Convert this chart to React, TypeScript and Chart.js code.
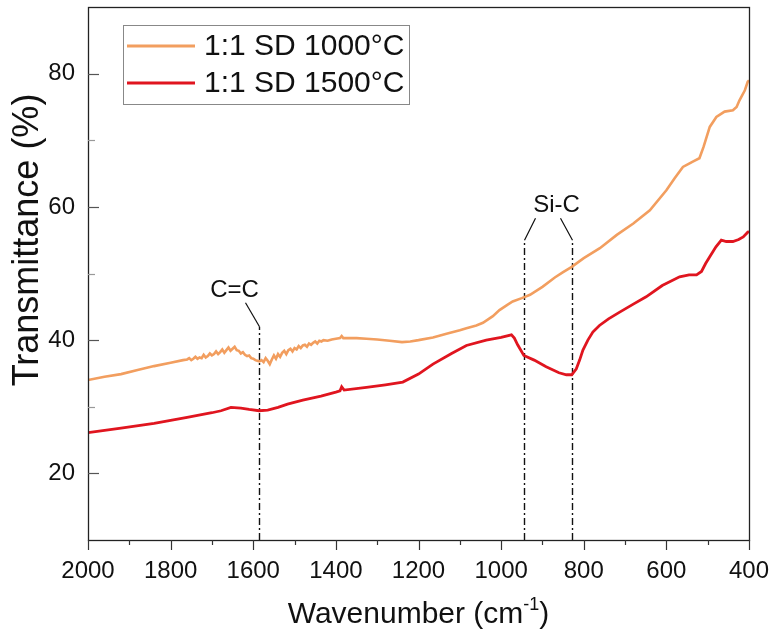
import React, { useEffect, useRef } from 'react';
import { Chart, registerables } from 'chart.js';

Chart.register(...registerables);

const FONT = '"Liberation Sans", Arial, Helvetica, sans-serif';

// ---- data ----
const seriesLabels = ['1:1 SD 1000°C', '1:1 SD 1500°C'];
const seriesColors = ['#F29E5F', '#E0151F'];

const wn1000 = [
  2000, 1960, 1920, 1880, 1840, 1800, 1770,
  1760, 1755, 1750, 1745, 1740, 1735, 1730, 1725, 1720, 1715, 1710, 1705, 1700, 1695, 1690, 1685, 1680, 1675,
  1670, 1665, 1660, 1655, 1650, 1645, 1640, 1635, 1630, 1625, 1620, 1615, 1610, 1605, 1600, 1595, 1590, 1585,
  1580, 1575, 1570, 1565, 1560, 1555, 1550, 1545, 1540, 1535, 1530, 1525, 1520, 1515, 1510, 1505, 1500, 1495,
  1490, 1485, 1480, 1475, 1470, 1465, 1460, 1455, 1450, 1445, 1440, 1435, 1430,
  1420, 1410, 1400, 1390, 1386, 1382, 1370, 1350, 1326,
  1300, 1270, 1240, 1220, 1200, 1165, 1130, 1100, 1084, 1060, 1044, 1020, 1004, 985, 972, 950, 930, 900, 870,
  850, 829, 800, 761, 720, 680, 640, 600, 580, 560, 545, 536, 520, 510, 495, 479, 459, 439, 430, 423, 410, 403, 400,
];
const t1000 = [
  34.0, 34.5, 34.9, 35.5, 36.1, 36.6, 37.0,
  37.1, 37.3, 37.0, 37.2, 37.5, 37.2, 37.4, 37.3, 37.8, 37.4, 37.6, 38.0, 37.7, 37.9, 38.3, 37.9, 38.2, 38.6,
  38.1, 38.5, 38.9, 38.4, 38.7, 39.0, 38.5, 38.4, 38.0, 38.2, 37.8, 37.6, 37.7, 37.3, 37.2, 37.0, 36.9, 36.8,
  37.0, 36.7, 37.3, 36.9, 36.4, 37.1, 37.7, 37.2, 37.9, 37.5, 38.1, 38.4, 37.9, 38.5, 38.7, 38.3, 38.8, 38.6,
  39.1, 38.8, 39.2, 39.3, 39.0, 39.5, 39.3, 39.6, 39.8, 39.5, 39.9, 39.8, 40.0,
  39.9, 40.1, 40.2, 40.3, 40.6, 40.3, 40.3, 40.3, 40.2,
  40.1, 39.9, 39.7, 39.8, 40.0, 40.4, 41.0, 41.5, 41.8, 42.2, 42.6, 43.6, 44.5, 45.3, 45.8, 46.3, 46.8, 48.0, 49.4,
  50.2, 51.0, 52.3, 53.8, 55.8, 57.5, 59.5, 62.5, 64.3, 66.0, 66.5, 66.8, 67.3, 69.0, 72.0, 73.5, 74.3, 74.5, 75.0, 76.0, 77.5, 78.8, 79.0,
];

const wn1500 = [
  2000, 1920, 1840, 1760, 1700, 1678, 1654, 1630, 1610, 1586, 1565, 1540, 1517, 1480, 1436, 1400, 1390, 1386,
  1380, 1326, 1280, 1238, 1200, 1165, 1120, 1084, 1036, 1000, 975, 968, 960, 945, 920, 891, 860, 842, 829, 818,
  810, 802, 790, 778, 762, 740, 713, 680, 649, 610, 568, 545, 527, 515, 505, 495, 480, 467, 455, 439, 425, 414, 403, 400,
];
const t1500 = [
  26.1, 26.8, 27.5, 28.4, 29.1, 29.4, 29.9, 29.8, 29.6, 29.4, 29.5, 29.9, 30.4, 31.0, 31.6, 32.2, 32.4, 33.0,
  32.5, 32.9, 33.3, 33.7, 34.9, 36.4, 38.0, 39.2, 40.0, 40.4, 40.8, 40.3, 39.3, 37.7, 37.0, 36.0, 35.1, 34.8, 34.8, 35.7,
  37.0, 38.5, 40.0, 41.2, 42.2, 43.2, 44.2, 45.4, 46.5, 48.2, 49.5, 49.8, 49.8, 50.3, 51.5, 52.5, 54.0, 55.0, 54.8, 54.8, 55.1, 55.5, 56.2, 56.3,
];

const xMin = 400;
const xMax = 2000;
const xTickStep = 200;
const xMinorValues = [1900, 1700, 1500, 1300, 1100, 900, 700, 500];
const yMin = 10;
const yMax = 90;
const yTickValues = [20, 40, 60, 80];
const yMinorValues = [30, 50, 70];

const xTitle = 'Wavenumber (cm';
const xTitleSup = '-1';
const xTitleEnd = ')';
const yTitle = 'Transmittance (%)';

const annotationLabels = ['C=C', 'Si-C'];
const annotationWavenumbers = [1586, 945, 829];
const annotationTops = [42, 55, 55];

const zeroPadding = (s: any) => {
  s.paddingLeft = 0;
  s.paddingRight = 0;
  s.paddingTop = 0;
  s.paddingBottom = 0;
};

const decorPlugin = {
  id: 'decor',
  beforeDatasetsDraw(chart: any) {
    const { ctx, chartArea, scales } = chart;
    const xs = scales.x;
    const ys = scales.y;
    ctx.save();
    ctx.strokeStyle = '#111';
    ctx.lineWidth = 1.4;
    ctx.setLineDash([7, 3, 2, 3]);
    annotationWavenumbers.forEach((w, i) => {
      const px = Math.round(xs.getPixelForValue(w)) + 0.5;
      const top = ys.getPixelForValue(annotationTops[i]);
      ctx.beginPath();
      ctx.moveTo(px, chartArea.bottom);
      ctx.lineTo(px, top);
      ctx.stroke();
    });
    ctx.setLineDash([]);
    ctx.lineWidth = 1.2;
    const cx = Math.round(xs.getPixelForValue(annotationWavenumbers[0])) + 0.5;
    const cy = ys.getPixelForValue(annotationTops[0]);
    ctx.beginPath();
    ctx.moveTo(cx, cy);
    ctx.lineTo(cx - 14, cy - 24);
    ctx.stroke();
    const sx1 = Math.round(xs.getPixelForValue(annotationWavenumbers[1])) + 0.5;
    const sy1 = ys.getPixelForValue(annotationTops[1]);
    const sx2 = Math.round(xs.getPixelForValue(annotationWavenumbers[2])) + 0.5;
    const sy2 = ys.getPixelForValue(annotationTops[2]);
    ctx.beginPath();
    ctx.moveTo(sx1, sy1);
    ctx.lineTo(sx1 + 11, sy1 - 22);
    ctx.moveTo(sx2, sy2);
    ctx.lineTo(sx2 - 12, sy2 - 22);
    ctx.stroke();
    ctx.fillStyle = '#111';
    ctx.font = `24px ${FONT}`;
    ctx.textAlign = 'center';
    ctx.textBaseline = 'middle';
    ctx.fillText(annotationLabels[0], cx - 25, cy - 36);
    ctx.fillText(annotationLabels[1], sx2 - 16, sy2 - 35);
    ctx.restore();
  },
  afterDraw(chart: any) {
    const { ctx, chartArea, scales, data } = chart;
    const xs = scales.x;
    const ys = scales.y;
    const { left, right, top, bottom } = chartArea;
    ctx.save();
    ctx.strokeStyle = '#222';
    ctx.lineWidth = 1.3;
    ctx.strokeRect(left + 0.5, top + 0.5, right - left, bottom - top);
    ctx.strokeStyle = '#333';
    ctx.lineWidth = 1.2;
    xs.ticks.forEach((t: any) => {
      const px = Math.round(xs.getPixelForValue(t.value)) + 0.5;
      ctx.beginPath();
      ctx.moveTo(px, bottom);
      ctx.lineTo(px, bottom + 10);
      ctx.stroke();
    });
    xMinorValues.forEach((v) => {
      const px = Math.round(xs.getPixelForValue(v)) + 0.5;
      ctx.beginPath();
      ctx.moveTo(px, bottom);
      ctx.lineTo(px, bottom + 5);
      ctx.stroke();
    });
    ctx.strokeStyle = '#555';
    yTickValues.forEach((v) => {
      const py = Math.round(ys.getPixelForValue(v)) + 0.5;
      ctx.beginPath();
      ctx.moveTo(left, py);
      ctx.lineTo(left + 11, py);
      ctx.stroke();
    });
    ctx.strokeStyle = '#999';
    yMinorValues.forEach((v) => {
      const py = Math.round(ys.getPixelForValue(v)) + 0.5;
      ctx.beginPath();
      ctx.moveTo(left, py);
      ctx.lineTo(left + 7, py);
      ctx.stroke();
    });

    ctx.fillStyle = '#111';
    ctx.textBaseline = 'alphabetic';
    ctx.font = `30px ${FONT}`;
    const w1 = ctx.measureText(xTitle).width;
    ctx.font = `18px ${FONT}`;
    const w2 = ctx.measureText(xTitleSup).width;
    ctx.font = `30px ${FONT}`;
    const w3 = ctx.measureText(xTitleEnd).width;
    const total = w1 + w2 + w3;
    let tx = (left + right) / 2 - total / 2;
    const ty = 623;
    ctx.textAlign = 'left';
    ctx.fillText(xTitle, tx, ty);
    tx += w1;
    ctx.font = `18px ${FONT}`;
    ctx.fillText(xTitleSup, tx, ty - 13);
    tx += w2;
    ctx.font = `30px ${FONT}`;
    ctx.fillText(xTitleEnd, tx, ty);

    ctx.save();
    ctx.translate(28, 240);
    ctx.rotate(-Math.PI / 2);
    ctx.font = `36px ${FONT}`;
    ctx.textAlign = 'center';
    ctx.textBaseline = 'middle';
    ctx.fillText(yTitle, 0, 0);
    ctx.restore();

    const lx = 123.5;
    const ly = 25.5;
    ctx.fillStyle = '#fff';
    ctx.fillRect(lx, ly, 286, 79);
    ctx.strokeStyle = '#888';
    ctx.lineWidth = 1;
    ctx.strokeRect(lx, ly, 286, 79);
    const rows = [46, 83];
    data.datasets.forEach((ds: any, i: number) => {
      ctx.strokeStyle = ds.borderColor;
      ctx.lineWidth = 3.2;
      ctx.beginPath();
      ctx.moveTo(127, rows[i]);
      ctx.lineTo(195, rows[i]);
      ctx.stroke();
      ctx.fillStyle = '#111';
      ctx.font = `30px ${FONT}`;
      ctx.textAlign = 'left';
      ctx.textBaseline = 'middle';
      ctx.fillText(ds.label, 204, rows[i] + 1);
    });
    ctx.restore();
  },
};

export default function App() {
  const canvasRef = useRef<HTMLCanvasElement | null>(null);

  useEffect(() => {
    const canvas = canvasRef.current;
    if (!canvas) return;
    const chart = new Chart(canvas, {
      type: 'line',
      data: {
        datasets: [
          {
            label: seriesLabels[0],
            data: wn1000.map((w, i) => ({ x: w, y: t1000[i] })),
            borderColor: seriesColors[0],
            borderWidth: 2.6,
            pointRadius: 0,
            tension: 0,
            fill: false,
          },
          {
            label: seriesLabels[1],
            data: wn1500.map((w, i) => ({ x: w, y: t1500[i] })),
            borderColor: seriesColors[1],
            borderWidth: 2.8,
            pointRadius: 0,
            tension: 0,
            fill: false,
          },
        ],
      },
      options: {
        responsive: false,
        animation: false,
        events: [],
        layout: { padding: { top: 7, right: 23, left: 0, bottom: 0 } },
        plugins: { legend: { display: false }, tooltip: { enabled: false } },
        scales: {
          x: {
            type: 'linear',
            reverse: true,
            min: xMin,
            max: xMax,
            grid: { display: false, drawTicks: false },
            border: { display: false },
            ticks: {
              stepSize: xTickStep,
              autoSkip: false,
              maxRotation: 0,
              padding: 17,
              color: '#111',
              font: { family: FONT, size: 24 },
              callback: (v: any) => String(v),
            },
            afterFit: (s: any) => {
              s.height = 94;
              zeroPadding(s);
            },
          },
          y: {
            type: 'linear',
            min: yMin,
            max: yMax,
            grid: { display: false, drawTicks: false },
            border: { display: false },
            afterBuildTicks: (s: any) => {
              s.ticks = yTickValues.map((v) => ({ value: v }));
            },
            ticks: {
              padding: 13,
              color: '#111',
              font: { family: FONT, size: 24 },
              callback: (v: any) => String(v),
            },
            afterFit: (s: any) => {
              s.width = 88;
              zeroPadding(s);
            },
          },
        },
      } as any,
      plugins: [decorPlugin],
    });
    return () => chart.destroy();
  }, []);

  return (
    <div style={{ position: 'absolute', left: 0, top: 0, width: 772, height: 634, background: '#fff' }}>
      <canvas ref={canvasRef} width={772} height={634} style={{ display: 'block' }} />
    </div>
  );
}
